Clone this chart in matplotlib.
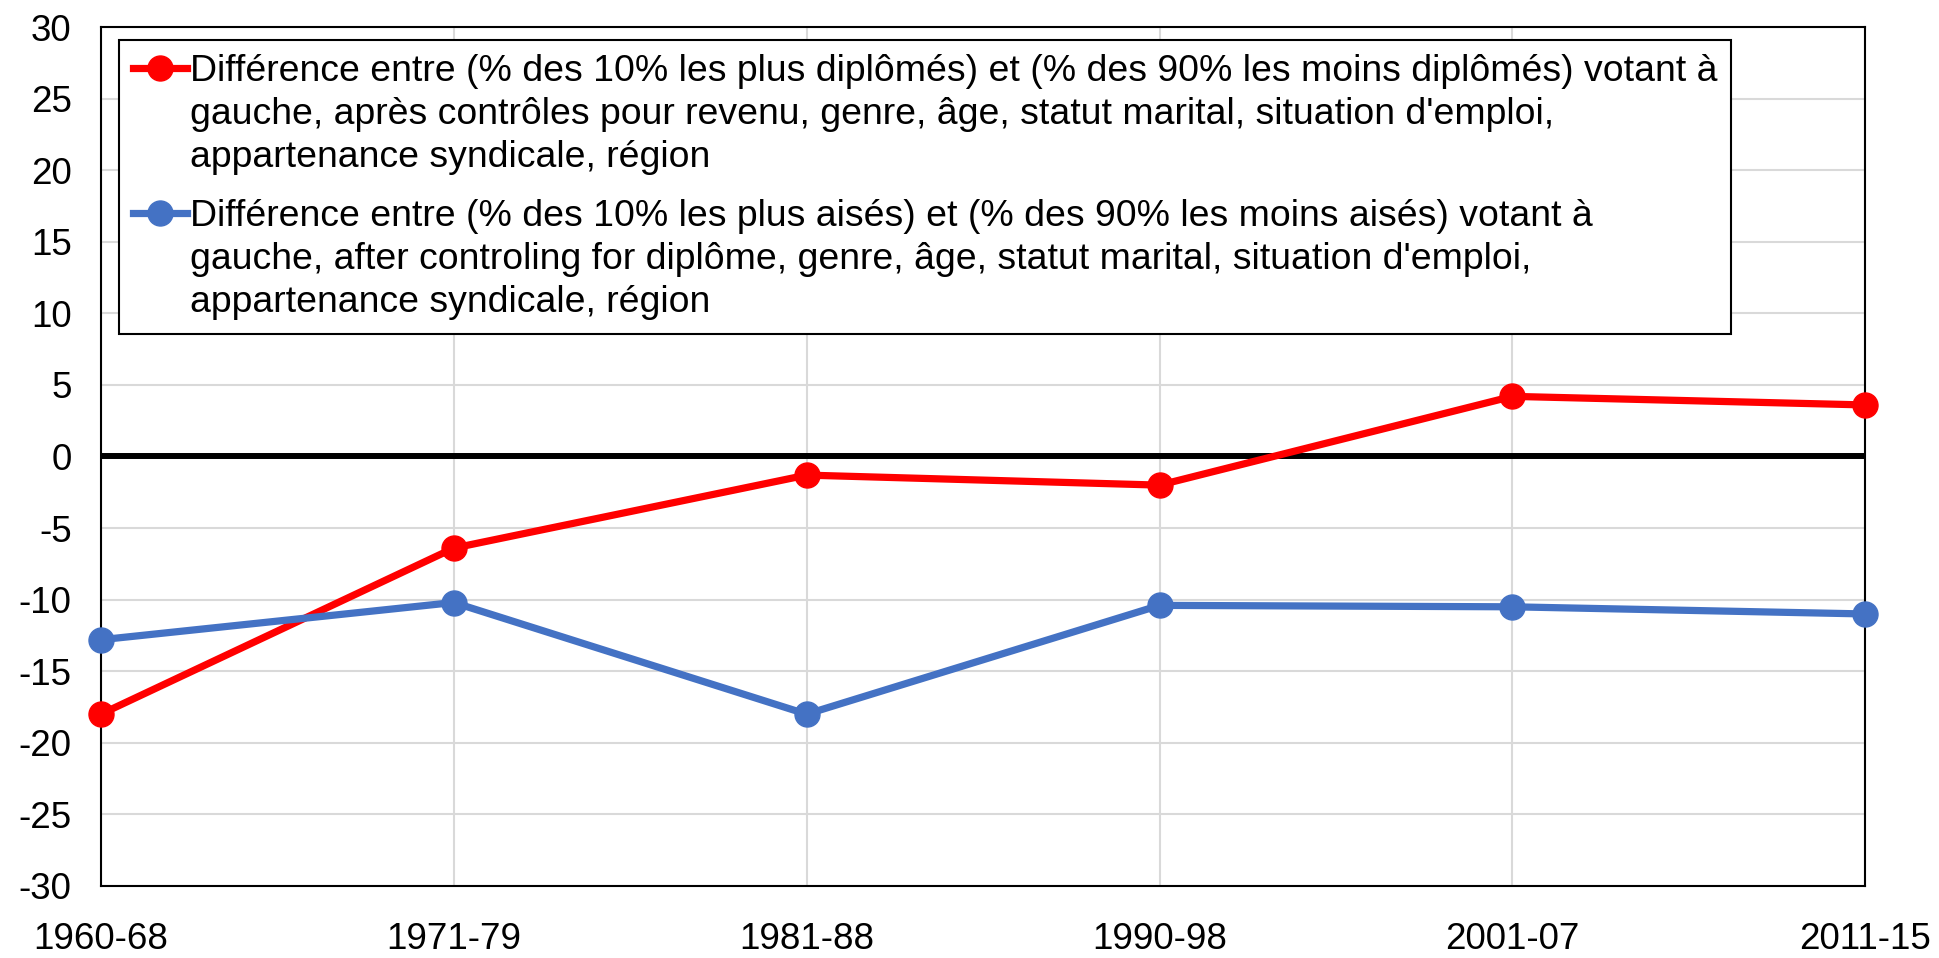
import matplotlib
matplotlib.use("Agg")
import matplotlib.pyplot as plt
import numpy as np
from matplotlib.legend_handler import HandlerLine2D

periods = ["1960-68", "1971-79", "1981-88", "1990-98", "2001-07", "2011-15"]
educ_gap = [-18.0, -6.4, -1.3, -2.0, 4.2, 3.6]
income_gap = [-12.8, -10.2, -18.0, -10.4, -10.5, -11.0]
yticks = list(range(-30, 31, 5))
label_educ = ("Différence entre (% des 10% les plus diplômés) et (% des 90% les moins diplômés) votant à\n"
              "gauche, après contrôles pour revenu, genre, âge, statut marital, situation d'emploi,\n"
              "appartenance syndicale, région")
label_income = ("Différence entre (% des 10% les plus aisés) et (% des 90% les moins aisés) votant à\n"
                "gauche, after controling for diplôme, genre, âge, statut marital, situation d'emploi,\n"
                "appartenance syndicale, région")

plt.rcParams['font.family'] = ['Liberation Sans', 'DejaVu Sans']
FS = 26.5
LEG_FS = 26.9


class TopLineHandler(HandlerLine2D):
    """Place the legend handle at the first line of a multi-line label."""
    def __init__(self, shift, **kw):
        super().__init__(**kw)
        self.shift = shift

    def create_artists(self, legend, orig_handle, xdescent, ydescent, width, height, fontsize, trans):
        artists = super().create_artists(legend, orig_handle, xdescent, ydescent, width, height, fontsize, trans)
        for a in artists:
            a.set_ydata(np.asarray(a.get_ydata(), dtype=float) + self.shift * fontsize)
        return artists


fig = plt.figure(figsize=(19.39, 9.58), dpi=100)
ax = fig.add_axes([0.052, 0.0752, 0.910, 0.8966])

x = list(range(len(periods)))
ax.axhline(0, color="black", lw=4.3, zorder=2)
l1, = ax.plot(x, educ_gap, color="#FF0000", lw=5.2, marker="o", markersize=18, label=label_educ, zorder=3, clip_on=False)
l2, = ax.plot(x, income_gap, color="#4472C4", lw=5.2, marker="o", markersize=18, label=label_income, zorder=3, clip_on=False)

ax.set_xlim(0, len(periods) - 1)
ax.set_ylim(-30, 30)
ax.set_yticks(yticks)
ax.set_yticklabels([str(v) for v in yticks], fontsize=FS)
ax.set_xticks(x)
ax.set_xticklabels(periods, fontsize=FS)
ax.tick_params(axis="both", length=0)
ax.tick_params(axis="x", pad=26)
ax.tick_params(axis="y", pad=21)
ax.grid(True, color="#D9D9D9", lw=1.5, zorder=0)
ax.set_axisbelow(True)
for s in ax.spines.values():
    s.set_color("black")
    s.set_linewidth(1.5)

shift = 1.26
leg = ax.legend(loc="upper left", bbox_to_anchor=(0.0102, 0.985), borderaxespad=0,
                fontsize=LEG_FS, handlelength=1.45, handletextpad=0.08, borderpad=0.37,
                labelspacing=0.65, fancybox=False, framealpha=1, edgecolor="black",
                handler_map={l1: TopLineHandler(shift), l2: TopLineHandler(shift)})
leg.get_frame().set_linewidth(1.5)
for t in leg.get_texts():
    t.set_linespacing(1.30)

fig.savefig("out.png", dpi=100, facecolor="white")
